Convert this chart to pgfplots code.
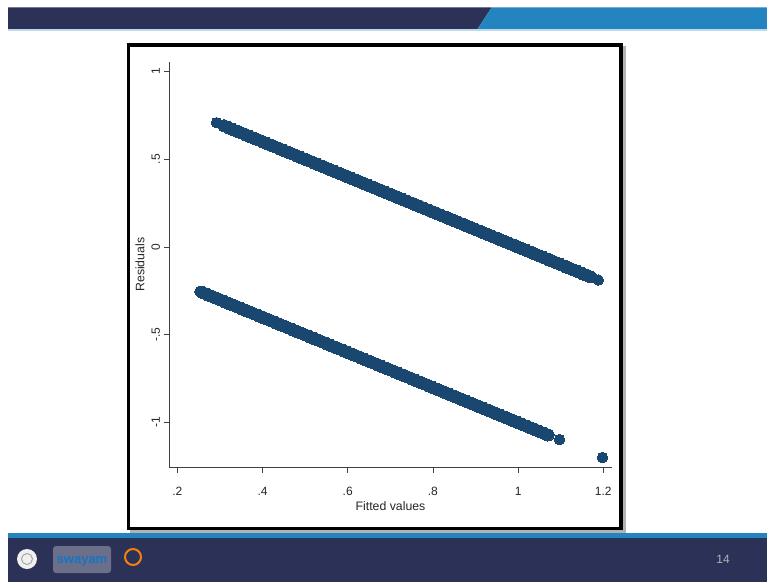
\documentclass[border=0pt]{standalone}
\usepackage{fontspec}
\setmainfont{Liberation Sans}
\usepackage{pgfplots}
\pgfplotsset{compat=1.18}
\definecolor{stnavy}{RGB}{26,71,111}
\definecolor{slnavy}{RGB}{43,49,87}
\definecolor{slblue}{RGB}{36,132,191}
\begin{document}
\begin{tikzpicture}[x=1pt,y=1pt]
\useasboundingbox (0,0) rectangle (767,582);
\fill[white] (0,0) rectangle (767,582);
% top banner
\fill[slnavy] (8,574.7) -- (491.7,574.7) -- (477.3,552.7) -- (8,552.7) -- cycle;
\fill[slblue] (491.7,574.7) -- (767,574.7) -- (767,552.7) -- (477.3,552.7) -- cycle;
\fill[slblue!30] (8,552.7) rectangle (767,551.4);
% bottom banner
\fill[slblue] (8,48.7) rectangle (767,43.7);
\fill[slnavy] (8,0) rectangle (767,43.7);
% logos (approximate)
\fill[white!88!gray] (27,23) circle (10);
\draw[gray!70, line width=1pt] (27,23) circle (5.5);
\fill[slnavy!70!white, rounded corners=3pt] (53,9) rectangle (111,36);
\node[text=cyan!55!blue, inner sep=0pt, font=\bfseries\fontsize{13}{13}\selectfont] at (82,21) {swayam};
\draw[orange!85!brown, line width=2pt] (133,25) circle (8);
\node[text=gray!60, font=\fontsize{12}{12}\selectfont] at (723,23) {14};
% frame
\fill[black!30] (130,49.5) rectangle (625.8,535.5);
\fill[white] (126.7,52) rectangle (622.7,538.7);
\draw[black, line width=3.3pt] (128.35,53.65) rectangle (621.05,537.05);
\begin{axis}[
  at={(169.3pt,114.3pt)}, anchor=south west,
  scale only axis, width=442.4pt, height=406pt,
  xmin=0.1812, xmax=1.2197, ymin=-1.2568, ymax=1.0553,
  axis x line*=bottom, axis y line*=left,
  axis line style={-, black!75, line width=0.8pt},
  tick align=outside, major tick length=5pt,
  tick style={black!75, line width=0.8pt},
  xtick={0.2,0.4,0.6,0.8,1,1.2}, xticklabels={.2,.4,.6,.8,1,1.2},
  ytick={-1,-0.5,0,0.5,1}, yticklabels={-1,-.5,0,.5,1},
  /pgf/number format/assume math mode=true,
  tick label style={font=\fontsize{12}{14}\selectfont, text=black!85},
  xticklabel style={anchor=center, yshift=-18.3pt},
  yticklabel style={xshift=-8.5pt, rotate=90, anchor=center},
  xlabel={Fitted values}, ylabel={Residuals},
  every axis x label/.style={at={(axis description cs:0.5,0)}, yshift=-38.3pt, anchor=center, font=\fontsize{12.3}{14}\selectfont, text=black!85},
  every axis y label/.style={at={(axis description cs:0,0.5)}, xshift=-29.3pt, rotate=90, anchor=center, font=\fontsize{12.3}{14}\selectfont, text=black!85},
  clip=false,
]
% upper band (outcome = 1)
\addplot[only marks, mark=*, mark size=6.1pt, mark options={fill=stnavy, draw=stnavy, line width=0pt}] coordinates {
(0.31,0.69) (0.32,0.68) (0.33,0.67) (0.34,0.66) (0.35,0.65) (0.36,0.64) (0.37,0.63) (0.38,0.62) (0.39,0.61)
(0.40,0.60) (0.41,0.59) (0.42,0.58) (0.43,0.57) (0.44,0.56) (0.45,0.55) (0.46,0.54) (0.47,0.53) (0.48,0.52) (0.49,0.51)
(0.50,0.50) (0.51,0.49) (0.52,0.48) (0.53,0.47) (0.54,0.46) (0.55,0.45) (0.56,0.44) (0.57,0.43) (0.58,0.42) (0.59,0.41)
(0.60,0.40) (0.61,0.39) (0.62,0.38) (0.63,0.37) (0.64,0.36) (0.65,0.35) (0.66,0.34) (0.67,0.33) (0.68,0.32) (0.69,0.31)
(0.70,0.30) (0.71,0.29) (0.72,0.28) (0.73,0.27) (0.74,0.26) (0.75,0.25) (0.76,0.24) (0.77,0.23) (0.78,0.22) (0.79,0.21)
(0.80,0.20) (0.81,0.19) (0.82,0.18) (0.83,0.17) (0.84,0.16) (0.85,0.15) (0.86,0.14) (0.87,0.13) (0.88,0.12) (0.89,0.11)
(0.90,0.10) (0.91,0.09) (0.92,0.08) (0.93,0.07) (0.94,0.06) (0.95,0.05) (0.96,0.04) (0.97,0.03) (0.98,0.02) (0.99,0.01)
(1.00,0.00) (1.01,-0.01) (1.02,-0.02) (1.03,-0.03) (1.04,-0.04) (1.05,-0.05) (1.06,-0.06) (1.07,-0.07) (1.08,-0.08) (1.09,-0.09)
(1.10,-0.10) (1.11,-0.11) (1.12,-0.12) (1.13,-0.13) (1.14,-0.14) (1.15,-0.15) (1.16,-0.16) (1.17,-0.17)
};
% lower band (outcome = 0)
\addplot[only marks, mark=*, mark size=6.1pt, mark options={fill=stnavy, draw=stnavy, line width=0pt}] coordinates {
(0.26,-0.26) (0.27,-0.27) (0.28,-0.28) (0.29,-0.29)
(0.30,-0.30) (0.31,-0.31) (0.32,-0.32) (0.33,-0.33) (0.34,-0.34) (0.35,-0.35) (0.36,-0.36) (0.37,-0.37) (0.38,-0.38) (0.39,-0.39)
(0.40,-0.40) (0.41,-0.41) (0.42,-0.42) (0.43,-0.43) (0.44,-0.44) (0.45,-0.45) (0.46,-0.46) (0.47,-0.47) (0.48,-0.48) (0.49,-0.49)
(0.50,-0.50) (0.51,-0.51) (0.52,-0.52) (0.53,-0.53) (0.54,-0.54) (0.55,-0.55) (0.56,-0.56) (0.57,-0.57) (0.58,-0.58) (0.59,-0.59)
(0.60,-0.60) (0.61,-0.61) (0.62,-0.62) (0.63,-0.63) (0.64,-0.64) (0.65,-0.65) (0.66,-0.66) (0.67,-0.67) (0.68,-0.68) (0.69,-0.69)
(0.70,-0.70) (0.71,-0.71) (0.72,-0.72) (0.73,-0.73) (0.74,-0.74) (0.75,-0.75) (0.76,-0.76) (0.77,-0.77) (0.78,-0.78) (0.79,-0.79)
(0.80,-0.80) (0.81,-0.81) (0.82,-0.82) (0.83,-0.83) (0.84,-0.84) (0.85,-0.85) (0.86,-0.86) (0.87,-0.87) (0.88,-0.88) (0.89,-0.89)
(0.90,-0.90) (0.91,-0.91) (0.92,-0.92) (0.93,-0.93) (0.94,-0.94) (0.95,-0.95) (0.96,-0.96) (0.97,-0.97) (0.98,-0.98) (0.99,-0.99)
(1.00,-1.00) (1.01,-1.01) (1.02,-1.02) (1.03,-1.03) (1.04,-1.04) (1.05,-1.05) (1.06,-1.06) (1.07,-1.07)
};
% isolated end points
\addplot[only marks, mark=*, mark size=5.3pt, mark options={fill=stnavy, draw=stnavy, line width=0pt}] coordinates {
(0.292,0.708) (1.188,-0.188) (0.253,-0.253) (1.097,-1.097) (1.198,-1.198)
};
\end{axis}
\end{tikzpicture}
\end{document}
